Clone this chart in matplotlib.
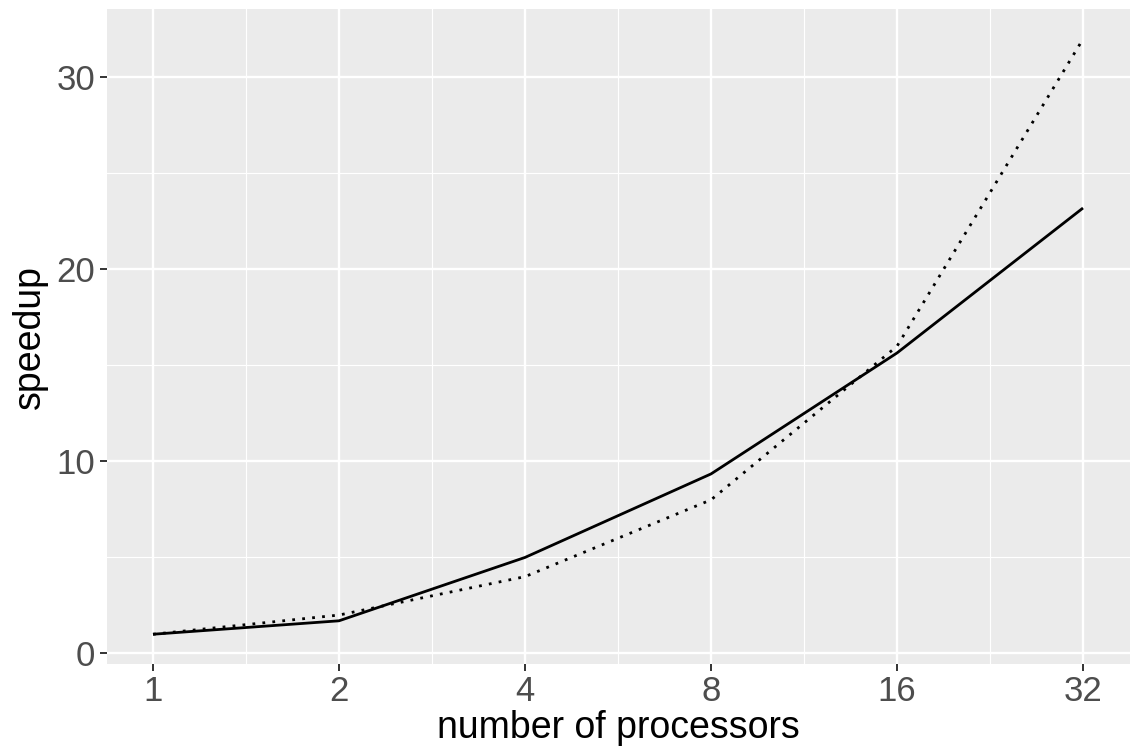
import matplotlib
matplotlib.use("Agg")
import matplotlib.pyplot as plt
from matplotlib.ticker import FixedLocator, NullFormatter

plt.rcParams['font.family'] = ['Liberation Sans', 'DejaVu Sans']

processors = [1, 2, 4, 8, 16, 32]
speedup_measured = [1.0, 1.7, 5.0, 9.35, 15.65, 23.2]
speedup_ideal = [1, 2, 4, 8, 16, 32]
x_ticks = [1, 2, 4, 8, 16, 32]
x_minor = [2 ** 0.5, 2 ** 1.5, 2 ** 2.5, 2 ** 3.5, 2 ** 4.5]
y_ticks = [0, 10, 20, 30]
y_minor = [5, 15, 25]

W, H = 1134, 751
fig = plt.figure(figsize=(W / 100, H / 100), dpi=100)
ax = fig.add_axes([106.5 / W, 1 - 664 / H, (1129.5 - 106.5) / W, (664 - 9.3) / H])

ax.set_facecolor('#EBEBEB')
for s in ax.spines.values():
    s.set_visible(False)

ax.set_xscale('log', base=2)
ax.set_xlim(2 ** -0.25, 2 ** 5.25)
lo, hi = min(speedup_ideal + speedup_measured), max(speedup_ideal + speedup_measured)
pad = (hi - lo) * 0.05
ax.set_ylim(lo - pad, hi + pad)

ax.xaxis.set_major_locator(FixedLocator(x_ticks))
ax.xaxis.set_minor_locator(FixedLocator(x_minor))
ax.xaxis.set_minor_formatter(NullFormatter())
ax.set_xticklabels([str(v) for v in x_ticks])
ax.yaxis.set_major_locator(FixedLocator(y_ticks))
ax.yaxis.set_minor_locator(FixedLocator(y_minor))

ax.grid(which='major', color='white', linewidth=1.7)
ax.grid(which='minor', color='white', linewidth=0.85)
ax.set_axisbelow(True)

ax.tick_params(which='major', length=5, width=1.4, color='#333333',
               labelsize=25, labelcolor='#4D4D4D', pad=3)
ax.tick_params(which='minor', length=0)

ax.plot(processors, speedup_measured, color='black', linewidth=2.0,
        solid_capstyle='butt')
ax.plot(processors, speedup_ideal, color='black', linewidth=2.0,
        linestyle=(0, (1, 2.6)))

ax.set_xlabel('number of processors', fontsize=27, labelpad=1)
ax.set_ylabel('speedup', fontsize=27, labelpad=6)

fig.savefig('out.png', dpi=100)
